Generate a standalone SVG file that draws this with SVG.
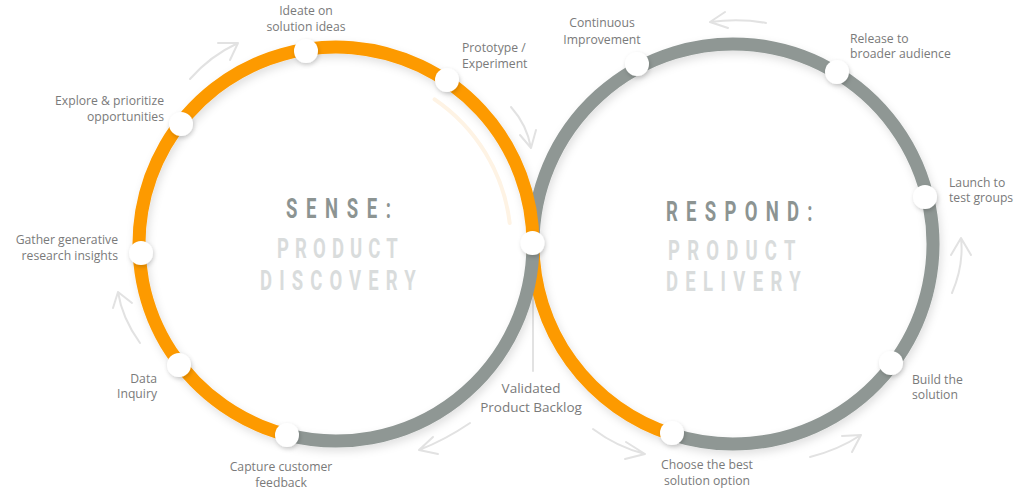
<svg xmlns="http://www.w3.org/2000/svg" width="1022" height="491" viewBox="0 0 1022 491">
<style>
.ring{fill:none;stroke-width:13}
.or{stroke:#FD9A00}
.gr{stroke:#8F9794}
.node{fill:#FFFFFF;filter:url(#nsh)}
.lbl{font-family:"Open Sans","Liberation Sans",sans-serif;font-size:12.2px;fill:#7A7A7A}
.big{font-size:13.5px}
.mid{text-anchor:middle}
.end{text-anchor:end}
.arr{fill:none;stroke:#E2E2E2;stroke-width:2;stroke-linecap:round;stroke-linejoin:round}
.t1{font-family:Roboto,"Liberation Sans",sans-serif;font-weight:700;font-size:28px;fill:#8C9492}
.t2{font-family:Roboto,"Liberation Sans",sans-serif;font-weight:700;font-size:28px;fill:#D9DCDC}
</style>
<defs>
<filter id="rsh" x="-10%" y="-10%" width="120%" height="125%">
<feDropShadow dx="2" dy="4" stdDeviation="4" flood-color="#000" flood-opacity="0.12"/>
</filter>
<filter id="nsh" x="-50%" y="-50%" width="200%" height="200%">
<feDropShadow dx="1" dy="2" stdDeviation="2" flood-color="#000" flood-opacity="0.18"/>
</filter>
</defs>
<rect width="1022" height="491" fill="#FFFFFF"/>

<g id="connectors">
<path class="arr" d="M533,256 L533,371"/>
<path d="M434.6,99.4 A175,175 0 0 1 509.7,223" fill="none" stroke="#FEF3E4" stroke-width="4" stroke-linecap="round"/>
<path class="arr" d="M190,79 Q210,56 238,43 M218,43 L238,43 L230,60"/>
<path class="arr" d="M511,107 Q527,125 531,148 M520,135 L531,148 L536,130"/>
<path class="arr" d="M766,23 Q740,18 710,22 M725,12 L710,22 L728,28"/>
<path class="arr" d="M952,293 Q964,265 961,238 M951,255 L961,238 L971,255"/>
<path class="arr" d="M810,457 Q838,450 861,435 M842,436 L861,435 L852,452"/>
<path class="arr" d="M593,429 Q617,447 645,454 M626,442 L645,454 L625,459"/>
<path class="arr" d="M470,423 Q445,440 419,450 M433,437 L419,450 L438,454"/>
<path class="arr" d="M140,343 Q122,318 118,292 M113,308 L118,292 L132,303"/>
</g>

<g id="rings" filter="url(#rsh)">
<path class="ring gr" d="M533,244 A200,200 0 1 1 671.5,434.3"/>
<path class="ring or" d="M533,244 A200,200 0 0 0 671.5,434.3"/>
<path class="ring or" d="M287.4,434.9 A197,197 0 1 1 533,244"/>
<path class="ring gr" d="M533,244 A197,197 0 0 1 287.4,434.9"/>
</g>

<g id="title-sense">
<text class="t1" transform="translate(286,218) scale(0.66,1)" textLength="159" lengthAdjust="spacing">SENSE:</text>
<text class="t2" transform="translate(277,258) scale(0.66,1)" textLength="183" lengthAdjust="spacing">PRODUCT</text>
<text class="t2" transform="translate(260,290) scale(0.66,1)" textLength="236" lengthAdjust="spacing">DISCOVERY</text>
</g>
<g id="title-respond">
<text class="t1" transform="translate(666,221) scale(0.66,1)" textLength="222" lengthAdjust="spacing">RESPOND:</text>
<text class="t2" transform="translate(668,260) scale(0.66,1)" textLength="193" lengthAdjust="spacing">PRODUCT</text>
<text class="t2" transform="translate(666,291) scale(0.66,1)" textLength="204" lengthAdjust="spacing">DELIVERY</text>
</g>

<g id="node-ideate"><circle class="node" cx="306" cy="51" r="12"/>
<text class="lbl mid" x="306" y="15">Ideate on</text><text class="lbl mid" x="306" y="31">solution ideas</text></g>
<g id="node-prototype"><circle class="node" cx="447" cy="80" r="12"/>
<text class="lbl" x="462" y="52">Prototype /</text><text class="lbl" x="462" y="68">Experiment</text></g>
<g id="node-explore"><circle class="node" cx="181" cy="124" r="12"/>
<text class="lbl end" x="164" y="105">Explore &amp; prioritize</text><text class="lbl end" x="164" y="121">opportunities</text></g>
<g id="node-gather"><circle class="node" cx="141" cy="253" r="12"/>
<text class="lbl end" x="118" y="244">Gather generative</text><text class="lbl end" x="118" y="260">research insights</text></g>
<g id="node-data"><circle class="node" cx="179" cy="365" r="12"/>
<text class="lbl end" x="157" y="383">Data</text><text class="lbl end" x="157" y="398">Inquiry</text></g>
<g id="node-capture"><circle class="node" cx="287" cy="435" r="12"/>
<text class="lbl mid" x="281" y="471">Capture customer</text><text class="lbl mid" x="281" y="487">feedback</text></g>
<g id="node-backlog"><circle class="node" cx="532.5" cy="243" r="12"/>
<text class="lbl big mid" x="531" y="393">Validated</text><text class="lbl big mid" x="531" y="412">Product Backlog</text></g>
<g id="node-choose"><circle class="node" cx="672" cy="433" r="12"/>
<text class="lbl mid" x="707" y="469">Choose the best</text><text class="lbl mid" x="707" y="485">solution option</text></g>
<g id="node-build"><circle class="node" cx="891" cy="363" r="12"/>
<text class="lbl" x="912" y="384">Build the</text><text class="lbl" x="912" y="399">solution</text></g>
<g id="node-launch"><circle class="node" cx="925" cy="197" r="12"/>
<text class="lbl" x="949" y="187">Launch to</text><text class="lbl" x="949" y="202">test groups</text></g>
<g id="node-release"><circle class="node" cx="837" cy="72" r="12"/>
<text class="lbl" x="850" y="43">Release to</text><text class="lbl" x="850" y="58">broader audience</text></g>
<g id="node-continuous"><circle class="node" cx="637" cy="64" r="12"/>
<text class="lbl mid" x="602" y="27">Continuous</text><text class="lbl mid" x="602" y="44">Improvement</text></g>
</svg>
